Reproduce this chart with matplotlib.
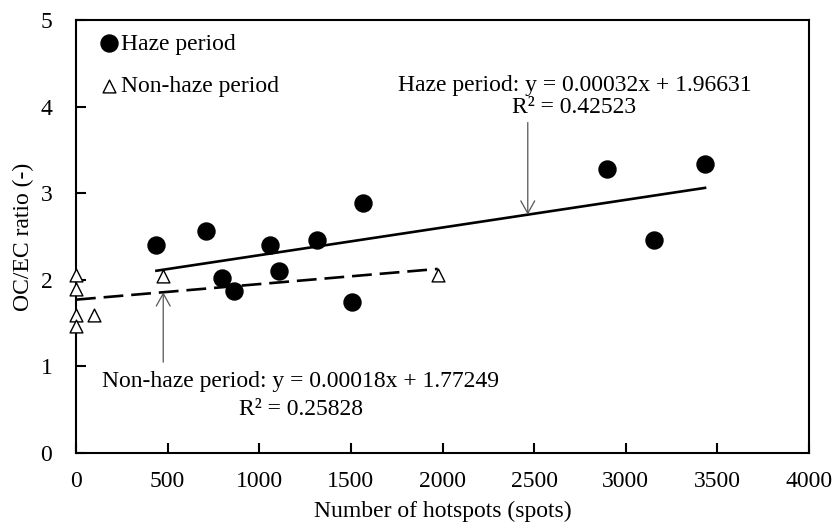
import matplotlib.pyplot as plt
import numpy as np

# Datos
haze_x = [439, 708, 798, 864, 1056, 1109, 1313, 1504, 1568, 2899, 3154, 3432]
haze_y = [2.40, 2.57, 2.02, 1.87, 2.40, 2.10, 2.46, 1.74, 2.89, 3.28, 2.46, 3.34]

nonhaze_x = [0, 0, 0, 0, 98, 476, 1974]
nonhaze_y = [2.06, 1.89, 1.60, 1.47, 1.60, 2.05, 2.06]

# Ajustes lineales (y = a*x + b)
haze_fit = (0.00032, 1.96631)
nonhaze_fit = (0.00018, 1.77249)

haze_label = "Haze period: y = 0.00032x + 1.96631\nR\u00b2 = 0.42523"
nonhaze_label = "Non-haze period: y = 0.00018x + 1.77249\nR\u00b2 = 0.25828"

x_ticks = [0, 500, 1000, 1500, 2000, 2500, 3000, 3500, 4000]
y_ticks = [0, 1, 2, 3, 4, 5]

plt.rcParams["font.family"] = ["Liberation Serif", "DejaVu Serif"]
plt.rcParams["font.size"] = 17

fig, ax = plt.subplots(figsize=(8.35, 5.24), dpi=100)
fig.subplots_adjust(left=0.091, right=0.969, top=0.961, bottom=0.1355)

ax.scatter(haze_x, haze_y, s=150, color="black", zorder=3, label="Haze period")
ax.scatter(nonhaze_x, nonhaze_y, s=85, marker="^", facecolor="white",
           edgecolor="black", linewidth=1.0, zorder=3, clip_on=False,
           label="Non-haze period")

# Lineas de tendencia
xh = np.array([min(haze_x), max(haze_x)])
ax.plot(xh, haze_fit[0] * xh + haze_fit[1], color="black", lw=1.9, zorder=2)
xn = np.array([min(nonhaze_x), max(nonhaze_x)])
ax.plot(xn, nonhaze_fit[0] * xn + nonhaze_fit[1], color="black", lw=1.9,
        linestyle=(0, (7.5, 3)), zorder=2)

arrow = dict(arrowstyle="->,head_length=0.9,head_width=0.5", color="#555555",
             lw=0.9, mutation_scale=10, shrinkA=0, shrinkB=0)

# Anotacion periodo de neblina
ax_x = 2465
ax.annotate("", xy=(ax_x, haze_fit[0] * ax_x + haze_fit[1]), xytext=(ax_x, 3.82),
            arrowprops=arrow)
ax.text(2720, 4.12, haze_label, ha="center", va="center", linespacing=1.1)

# Anotacion periodo sin neblina
an_x = 476
ax.annotate("", xy=(an_x, nonhaze_fit[0] * an_x + nonhaze_fit[1]), xytext=(an_x, 1.05),
            arrowprops=arrow)
ax.text(1225, 0.66, nonhaze_label, ha="center", va="center", linespacing=1.45)

ax.set_xlim(0, 4000)
ax.set_ylim(0, 5)
ax.set_xticks(x_ticks)
ax.set_yticks(y_ticks)
ax.tick_params(axis="x", direction="in", length=7, width=1.5, pad=13)
ax.tick_params(axis="y", direction="in", length=7, width=1.5, pad=17)
for s in ax.spines.values():
    s.set_linewidth(1.5)

ax.set_xlabel("Number of hotspots (spots)", labelpad=6)
ax.set_ylabel("OC/EC ratio (-)", labelpad=5)

ax.legend(loc="upper left", bbox_to_anchor=(0.0, 1.02), frameon=False,
          handletextpad=0.0, handlelength=1.0, labelspacing=0.9,
          borderaxespad=0.5, scatterpoints=1)

plt.savefig("out.png", dpi=100)
